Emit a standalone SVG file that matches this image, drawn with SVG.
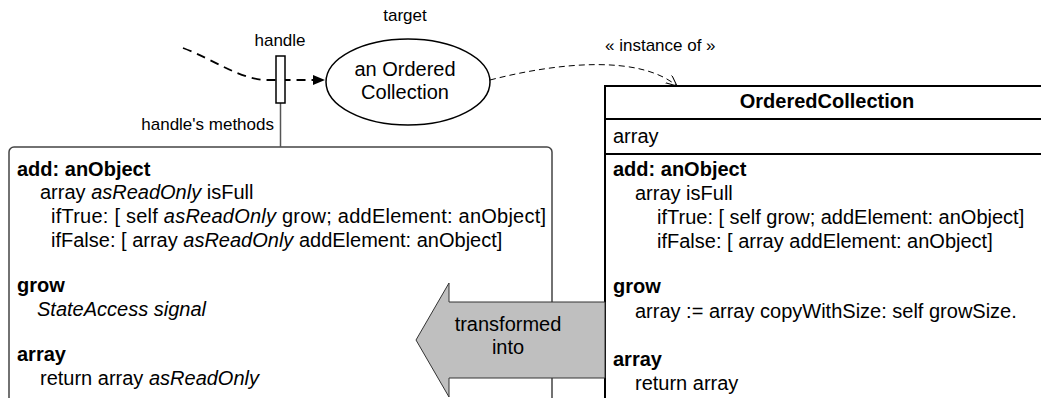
<svg xmlns="http://www.w3.org/2000/svg" width="1041" height="398" viewBox="0 0 1041 398">
<style>
text { font-family: "Liberation Sans", Arial, Helvetica, sans-serif; font-size: 20px; fill: #000; }
.b { font-weight: bold; }
.i { font-style: italic; }
.s { font-size: 17px; }
.mid { text-anchor: middle; }
.end { text-anchor: end; }
.box { fill: #fff; stroke: #000; stroke-width: 2; }
.div { stroke: #000; stroke-width: 2; }
.lbox { fill: #fff; stroke: #444; stroke-width: 1.5; }
</style>
<defs>
<marker id="solidHead" markerWidth="14" markerHeight="12" refX="12" refY="5" orient="auto" markerUnits="userSpaceOnUse">
<path d="M0,0 L12,5 L0,10 Z" fill="#000"/>
</marker>
<marker id="openHead" markerWidth="14" markerHeight="14" refX="11" refY="5" orient="auto" markerUnits="userSpaceOnUse">
<path d="M0,0 L11,5 L0,10" fill="none" stroke="#000" stroke-width="1"/>
</marker>
</defs>

<g id="handle-methods">
<rect class="lbox" x="9" y="147" width="543" height="270" rx="5"/>
<text x="17" y="176" class="b">add: anObject</text>
<text x="40" y="199">array <tspan class="i">asReadOnly</tspan> isFull</text>
<text x="51" y="223" textLength="495" lengthAdjust="spacing">ifTrue: [ self <tspan class="i">asReadOnly</tspan> grow; addElement: anObject]</text>
<text x="51" y="247">ifFalse: [ array <tspan class="i">asReadOnly</tspan> addElement: anObject]</text>
<text x="17" y="292" class="b">grow</text>
<text x="37" y="316" class="i">StateAccess signal</text>
<text x="17" y="361" class="b">array</text>
<text x="40" y="385">return array <tspan class="i">asReadOnly</tspan></text>
</g>

<g id="ordered-collection">
<rect class="box" x="605" y="86" width="445" height="330"/>
<line class="div" x1="605" y1="119" x2="1045" y2="119"/>
<line class="div" x1="605" y1="154" x2="1045" y2="154"/>
<text x="827" y="108" class="b mid">OrderedCollection</text>
<text x="613" y="143">array</text>
<text x="613" y="176" class="b">add: anObject</text>
<text x="635" y="200">array isFull</text>
<text x="657" y="224">ifTrue: [ self grow; addElement: anObject]</text>
<text x="657" y="248">ifFalse: [ array addElement: anObject]</text>
<text x="613" y="293" class="b">grow</text>
<text x="635" y="318">array := array copyWithSize: self growSize.</text>
<text x="613" y="366" class="b">array</text>
<text x="635" y="390">return array</text>
</g>

<g id="target">
<ellipse cx="408" cy="82" rx="82" ry="43" fill="#fff" stroke="#000" stroke-width="1.5"/>
<text x="405" y="76" class="mid">an Ordered</text>
<text x="405" y="99" class="mid">Collection</text>
<text x="405" y="21" class="s mid">target</text>
</g>

<g id="connectors">
<path d="M183,48 C215,60 240,80 268,80 L325,80" fill="none" stroke="#000" stroke-width="1.8" stroke-dasharray="9,6" marker-end="url(#solidHead)"/>
<line x1="280.5" y1="103" x2="280.5" y2="147" stroke="#555" stroke-width="1.5"/>
<path d="M490,80 C560,62 640,55 677,86" fill="none" stroke="#000" stroke-width="1" stroke-dasharray="6,4" marker-end="url(#openHead)"/>
<text x="605" y="51" class="s">« instance of »</text>
<text x="274" y="130" class="s end">handle's methods</text>
</g>

<g id="handle">
<rect x="276" y="56" width="9" height="47" fill="#fff" stroke="#000" stroke-width="1.5"/>
<text x="280" y="46" class="s mid">handle</text>
</g>

<g id="transformed-into">
<polygon points="416,340 449,283 449,302 605,302 605,378 449,378 449,397" fill="#bfbfbf" stroke="#333" stroke-width="1"/>
<text x="508" y="331" class="mid">transformed</text>
<text x="508" y="354" class="mid">into</text>
</g>
</svg>
